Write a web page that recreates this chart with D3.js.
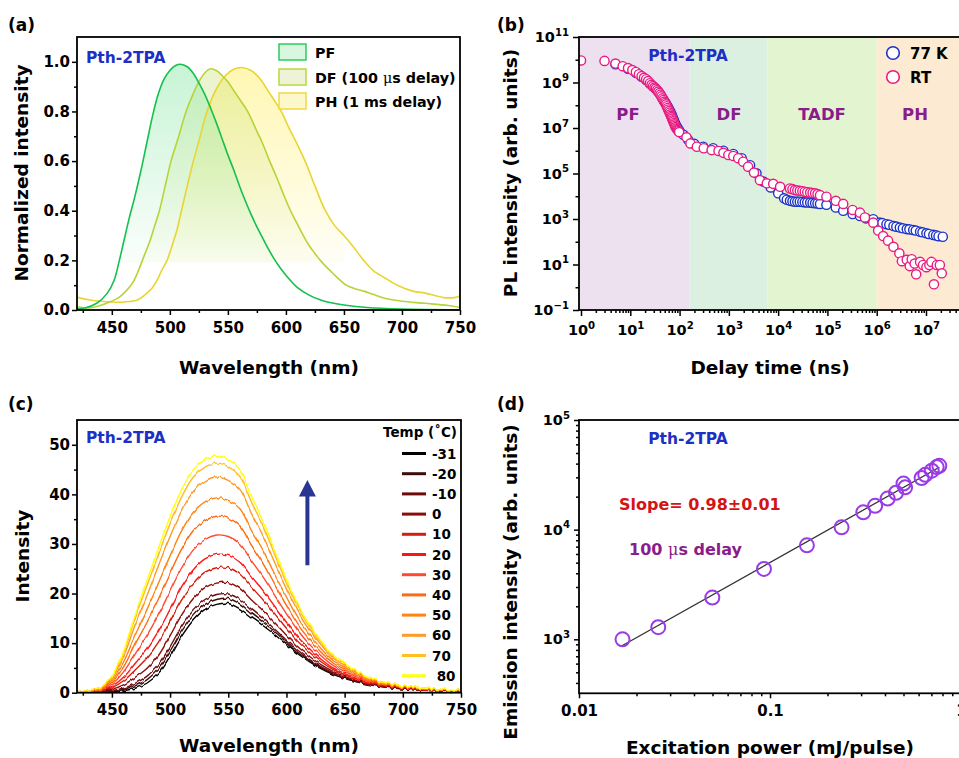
<!DOCTYPE html>
<html>
<head>
<meta charset="utf-8">
<title>Pth-2TPA photophysics</title>
<script src="https://cdn.jsdelivr.net/npm/d3@7/dist/d3.min.js"></script>
<style>
  html, body { margin: 0; background: #fff; }
  svg { display: block; }
</style>
</head>
<body>
<svg id="fig" width="959" height="758"></svg>
<script>
const FONT = '"DejaVu Sans", Verdana, sans-serif';

// ---------- (a) normalized PF / DF / PH spectra: [wavelength nm, intensity] ----------
const pfSpectrum = [[420,0.005],[426,0.007],[437,0.027],[446,0.067],[452,0.12],[456,0.19],[460,0.27],[465,0.37],[470,0.46],[475,0.56],[480,0.67],[485,0.78],[490,0.87],[495,0.93],[500,0.965],[505,0.985],[509,0.99],[515,0.98],[520,0.955],[525,0.915],[530,0.87],[535,0.815],[540,0.755],[545,0.69],[550,0.625],[555,0.565],[560,0.5],[565,0.44],[570,0.385],[575,0.335],[580,0.29],[585,0.245],[590,0.205],[595,0.17],[600,0.14],[610,0.09],[620,0.06],[630,0.04],[640,0.028],[650,0.02],[670,0.01],[700,0.004],[750,0.001]];
const dfSpectrum = [[420,0.013],[430,0.008],[440,0.018],[449,0.034],[456,0.05],[463,0.08],[468,0.11],[472,0.148],[478,0.22],[483,0.28],[487,0.34],[491,0.4],[496,0.5],[501,0.6],[507,0.69],[514,0.8],[520,0.87],[525,0.92],[530,0.955],[535,0.972],[540,0.965],[545,0.945],[550,0.92],[555,0.885],[560,0.85],[567,0.8],[575,0.72],[580,0.67],[586,0.6],[592,0.535],[598,0.465],[604,0.4],[610,0.345],[615,0.3],[620,0.26],[625,0.228],[630,0.198],[640,0.15],[652,0.1],[660,0.085],[668,0.075],[675,0.063],[687,0.045],[700,0.035],[720,0.027],[740,0.018],[750,0.01]];
const phSpectrum = [[420,0.052],[430,0.041],[443,0.034],[457,0.031],[465,0.034],[472,0.04],[480,0.067],[485,0.09],[489,0.12],[493,0.16],[497.6,0.2],[502,0.26],[506,0.32],[510,0.4],[515,0.5],[520,0.595],[525,0.68],[532,0.8],[540,0.89],[548,0.945],[555,0.97],[562,0.977],[570,0.965],[578,0.93],[585,0.88],[590,0.845],[596,0.8],[602,0.74],[610,0.665],[617,0.595],[625,0.5],[634,0.4],[642,0.34],[650,0.3],[658,0.255],[667,0.2],[675,0.16],[685,0.13],[696,0.1],[710,0.075],[720,0.068],[736,0.05],[745,0.05],[750,0.056]];
const legendA = ["PF", "DF (100 ", "PH (1 ms delay)"];
const xTicksA = [450, 500, 550, 600, 650, 700, 750];
const xMinorA = [425, 475, 525, 575, 625, 675, 725];
const yTicksA = [0, 0.2, 0.4, 0.6, 0.8, 1.0];
const yMinorA = [0.1, 0.3, 0.5, 0.7, 0.9];

// ---------- (b) PL decay: [delay ns, intensity] ----------
const regionNames = ["PF", "DF", "TADF", "PH"];
const regionEdges = [160, 6000, 1e6];
const k77Decay = [[5,6.3e9],[9,4.0e9],[13,2.7e9],[17,1.8e9],[21,1.3e9],[25,9.0e8],[29,6.6e8],[33,5.2e8],[37,3.9e8],[41,2.9e8],[45,2.1e8],[49,1.55e8],[53,1.2e8],[57,9.1e7],[61,6.9e7],[65,5.2e7],[69,3.9e7],[73,2.9e7],[77,2.2e7],[81,1.6e7],[85,1.3e7],[90,1.05e7],[95,8.5e6],[100,7.2e6],[120,5.0e6],
  [150,3.0e6],[200,2.0e6],[302,1.5e6],[479,1.29e6],[776,1.0e6],[1230,7.2e5],[1820,4.7e5],[2690,2.3e5],[3630,1.02e5],[5010,4.4e4],[7080,2.45e4],[10000,1.35e4],[13200,8.1e3],[15000,7.0e3],[17400,6.3e3],[19500,6.0e3],[21900,5.75e3],[24500,5.8e3],[27500,5.75e3],[31000,5.6e3],[34700,5.4e3],[39000,5.3e3],[44700,5.25e3],[50000,5.1e3],[56200,4.9e3],[63000,4.8e3],[70800,4.6e3],[95500,4.2e3],[148000,3.2e3],[209000,2.3e3],[324000,1.66e3],[457000,1.35e3],[603000,1.07e3],[851000,9.8e2],
  [1.15e6,690],[1.3e6,660],[1.58e6,590],[1.8e6,560],[2.19e6,490],[2.5e6,460],[2.95e6,420],[3.4e6,390],[4.07e6,360],[4.6e6,350],[5.5e6,330],[6.2e6,310],[7.59e6,275],[8.5e6,260],[1.02e7,235],[1.15e7,220],[1.41e7,200],[1.6e7,190],[1.8e7,175],[2.19e7,166]];
const rtDecay = [[1,9.3e9],[3,8.9e9],[5,6.8e9],[7,5.2e9],[9,4.3e9],[11,3.5e9],[13,2.9e9],[15,2.3e9],[17,1.9e9],[19,1.6e9],[21,1.4e9],[23,1.15e9],[25,9.3e8],[27,7.9e8],[29,6.9e8],[31,6.0e8],[33,5.4e8],[35,4.6e8],[37,4.0e8],[39,3.4e8],[41,2.9e8],[43,2.45e8],[45,2.0e8],[47,1.7e8],[49,1.45e8],[51,1.26e8],[53,1.1e8],[55,9.1e7],[57,7.6e7],[59,6.5e7],[61,5.5e7],[63,4.7e7],[65,4.0e7],[67,3.4e7],[69,3.0e7],[71,2.6e7],[73,2.2e7],[75,1.95e7],[77,1.66e7],[79,1.45e7],[81,1.26e7],[83,1.1e7],[86,9.8e6],[89,8.9e6],[92,8.1e6],[95,7.4e6],[98,6.6e6],
  [138,3.9e6],[166,2.1e6],[224,1.5e6],[309,1.29e6],[447,1.07e6],[617,9.8e5],[776,8.1e5],[977,6.5e5],[1230,5.9e5],[1549,4.7e5],[1950,3.3e5],[2455,2.0e5],[3236,1.1e5],[4266,5.1e4],[5888,3.7e4],[7943,3.5e4],
  [10965,2.6e4],[17378,2.2e4],[19500,2.05e4],[21878,1.86e4],[24500,1.8e4],[27542,1.74e4],[31000,1.66e4],[34674,1.58e4],[39000,1.5e4],[44668,1.45e4],[50000,1.4e4],[56234,1.35e4],[63000,1.25e4],[70795,1.12e4],[95499,9.5e3],[147911,6.3e3],[208930,4.6e3],[323594,2.5e3],[457088,1.9e3],[575440,1.17e3],[851138,690],
  [1.07e6,310],[1.35e6,178],[1.70e6,112],[2.19e6,60],[2.88e6,31],[3.24e6,14],[4.07e6,16],[4.68e6,8.5],[5.13e6,17],[5.89e6,11],[6.31e6,3.7],[7.59e6,13],[8.71e6,9.5],[1.02e7,7.6],[1.17e7,9.5],[1.29e7,13],[1.45e7,1.35],[1.66e7,9.5],[1.91e7,9.5],[2.09e7,4.1]];
const decadeTicksB = [1, 10, 100, 1e3, 1e4, 1e5, 1e6, 1e7];
const yTicksB = [1e-1, 1e1, 1e3, 1e5, 1e7, 1e9, 1e11];
const yMinorB = [1, 1e2, 1e4, 1e6, 1e8, 1e10];

// ---------- (c) temperature-dependent spectra ----------
const wavelengthC = [420,440,450,460,470,480,490,500,510,520,530,540,550,560,570,580,590,600,610,620,630,640,650,660,670,680,700,720,750];
const intensityM31 = [0.1,0.1,0.2,0.4,0.9,1.9,3.9,7.4,11.4,14.6,16.8,17.8,18.0,16.9,15.2,13.5,11.7,9.7,7.8,6.2,4.8,3.7,2.9,2.2,1.7,1.3,0.8,0.5,0.2];
const intensityM20 = [0.1,0.1,0.3,0.7,1.4,2.6,4.8,8.4,12.4,15.6,17.8,18.8,19.0,17.9,16.0,14.2,12.3,10.2,8.1,6.5,5.0,3.8,3.0,2.3,1.8,1.3,0.8,0.5,0.2];
const intensityM10 = [0.1,0.2,0.4,0.9,1.9,3.3,5.6,9.3,13.4,16.6,18.8,19.8,19.9,18.8,16.8,14.9,12.8,10.6,8.5,6.7,5.2,4.0,3.1,2.4,1.8,1.4,0.8,0.5,0.2];
const intensityP0 = [0.1,0.2,0.7,1.6,3.1,4.9,7.5,11.5,15.7,19.0,21.2,22.1,22.2,21.0,18.7,16.5,14.1,11.6,9.2,7.3,5.6,4.3,3.3,2.5,1.9,1.4,0.9,0.6,0.2];
const intensityP10 = [0.1,0.4,1.0,2.4,4.6,7.0,10.2,14.4,18.7,22.1,24.3,25.2,25.2,23.9,21.3,18.7,15.9,13.0,10.3,8.1,6.2,4.7,3.6,2.8,2.1,1.6,1.0,0.6,0.3];
const intensityP20 = [0.1,0.4,1.3,3.1,5.9,8.8,12.4,16.8,21.4,24.8,27.0,27.9,27.7,26.3,23.4,20.6,17.4,14.2,11.2,8.8,6.7,5.0,3.9,2.9,2.2,1.6,1.0,0.6,0.3];
const intensityP30 = [0.1,0.6,1.7,4.2,7.8,11.5,15.7,20.5,25.2,28.8,30.9,31.8,31.5,30.0,26.6,23.3,19.6,15.9,12.5,9.7,7.4,5.5,4.3,3.2,2.5,1.8,1.1,0.7,0.3];
const intensityP40 = [0.1,0.7,2.1,5.2,9.8,14.1,18.9,24.1,29.0,32.7,34.7,35.6,35.2,33.6,29.7,26.0,21.7,17.6,13.7,10.7,8.1,6.0,4.7,3.5,2.7,1.9,1.2,0.7,0.4];
const intensityP50 = [0.2,0.8,2.5,6.2,11.6,16.7,22.1,27.6,32.7,36.4,38.5,39.3,38.8,37.1,32.7,28.7,23.8,19.3,15.0,11.7,8.8,6.5,5.1,3.8,2.9,2.0,1.2,0.8,0.4];
const intensityP60 = [0.2,1.0,2.9,7.3,13.7,19.5,25.6,31.5,36.7,40.6,42.7,43.5,42.8,41.0,36.1,31.6,26.2,21.1,16.4,12.7,9.6,7.0,5.5,4.1,3.1,2.2,1.3,0.8,0.5];
const intensityP70 = [0.2,1.1,3.2,8.1,15.1,21.5,27.9,34.1,39.5,43.5,45.5,46.3,45.6,43.6,38.4,33.6,27.8,22.3,17.3,13.4,10.1,7.4,5.8,4.3,3.2,2.3,1.4,0.9,0.5];
const intensityP80 = [0.2,1.1,3.4,8.5,15.8,22.5,29.2,35.5,41.0,45.0,47.0,47.8,47.0,45.0,39.6,34.6,28.6,23.0,17.8,13.8,10.4,7.6,5.9,4.4,3.3,2.3,1.4,0.9,0.5];
const spectraC = [intensityM31, intensityM20, intensityM10, intensityP0, intensityP10, intensityP20, intensityP30, intensityP40, intensityP50, intensityP60, intensityP70, intensityP80];
const tempLabels = ["-31", "-20", "-10", "0", "10", "20", "30", "40", "50", "60", "70", " 80"];
const tempColors = ["#000000", "#3d0c0c", "#6a0a0a", "#8c0a0a", "#d41c10", "#ff1414", "#ff4a32", "#ff6a12", "#ff8414", "#ff9a22", "#ffbe22", "#ffff12"];
const yTicksC = [0, 10, 20, 30, 40, 50];
const yMinorC = [5, 15, 25, 35, 45];
const arrowC = [[618, 25.7], [618, 42.9]];

// ---------- (d) excitation-power dependence ----------
const excitationPower = [0.0169, 0.026, 0.0499, 0.093, 0.156, 0.237, 0.308, 0.355, 0.413, 0.457, 0.50, 0.51, 0.622, 0.65, 0.703, 0.746, 0.77];
const emissionIntensity = [1000, 1290, 2400, 4380, 7200, 10500, 14400, 16500, 19200, 21700, 26300, 24300, 29600, 31600, 34500, 37200, 38200];
const fitSlope = 0.98, fitSlopeErr = 0.01, fitLogIntercept = 4.68;
const fitRange = [0.0168, 0.77];
const xTicksD = [0.01, 0.1, 1];
const xMinorD = [0.02,0.03,0.04,0.05,0.06,0.07,0.08,0.09,0.2,0.3,0.4,0.5,0.6,0.7,0.8,0.9];
const yTicksD = [1e3, 1e4, 1e5];
const yMinorD = [400,500,600,700,800,900,2e3,3e3,4e3,5e3,6e3,7e3,8e3,9e3,2e4,3e4,4e4,5e4,6e4,7e4,8e4,9e4];

// ---------- helpers ----------
const svg = d3.select("#fig");
svg.append("rect").attr("width", 959).attr("height", 758).attr("fill", "#fff");
const defs = svg.append("defs");

function txt(parent, x, y, s, o = {}) {
  const t = parent.append("text").attr("x", x).attr("y", y)
    .attr("font-family", FONT).attr("font-weight", o.weight || "bold")
    .attr("font-size", o.size || 15).attr("fill", o.fill || "#000")
    .attr("text-anchor", o.anchor || "start");
  if (o.rotate) t.attr("transform", `rotate(${o.rotate},${x},${y})`);
  if (s !== null) t.text(s);
  return t;
}
function addAxis(parent, gen, tx, ty, size = 15) {
  const g = parent.append("g").attr("transform", `translate(${tx},${ty})`).call(gen);
  g.select(".domain").remove();
  g.selectAll(".tick line").attr("stroke", "#000").attr("stroke-width", 1.5);
  g.selectAll(".tick text").attr("font-family", FONT).attr("font-weight", "bold")
    .attr("font-size", size).attr("fill", "#000");
  return g;
}
function powerLabels(axisG, size) {
  axisG.selectAll(".tick text").each(function (d) {
    const e = Math.round(Math.log10(d));
    const t = d3.select(this).text(null);
    t.append("tspan").text("10");
    t.append("tspan").attr("dy", -size * 0.45).attr("font-size", size * 0.7)
      .text(e < 0 ? "\u2212" + (-e) : String(e));
  });
}
function frame(parent, x0, y0, x1, y1) {
  parent.append("rect").attr("x", x0).attr("y", y0).attr("width", x1 - x0).attr("height", y1 - y0)
    .attr("fill", "none").attr("stroke", "#000").attr("stroke-width", 1.8);
}
function clip(id, x0, y0, x1, y1) {
  defs.append("clipPath").attr("id", id).append("rect")
    .attr("x", x0).attr("y", y0).attr("width", x1 - x0).attr("height", y1 - y0);
  return `url(#${id})`;
}
function vGradient(id, color, yTop, yBot, a0, a1) {
  const g = defs.append("linearGradient").attr("id", id).attr("gradientUnits", "userSpaceOnUse")
    .attr("x1", 0).attr("x2", 0).attr("y1", yTop).attr("y2", yBot);
  g.append("stop").attr("offset", 0).attr("stop-color", color).attr("stop-opacity", a0);
  g.append("stop").attr("offset", 1).attr("stop-color", color).attr("stop-opacity", a1);
  return `url(#${id})`;
}

// ================= (a) =================
{
  const L = 77, T = 37, R = 460, B = 310;
  const g = svg.append("g");
  const x = d3.scaleLinear().domain([420, 750]).range([L, R]);
  const y = d3.scaleLinear().domain([0, 1.1]).range([B, T]);
  const fillBase = 0.19;
  const fillClip = clip("fillA", x(420), T, x(650), y(fillBase));
  const plotClip = clip("plotA", L, T, R, B);
  const series = [
    { data: phSpectrum, line: "#e8d534", fill: vGradient("gPH", "#fff070", y(1), y(fillBase), 0.55, 0.06) },
    { data: dfSpectrum, line: "#b6d438", fill: vGradient("gDF", "#c8e070", y(1), y(fillBase), 0.38, 0.04) },
    { data: pfSpectrum, line: "#14c04e", fill: vGradient("gPF", "#8fe8a8", y(1), y(fillBase), 0.5, 0.04) }
  ];
  const area = d3.area().curve(d3.curveCatmullRom.alpha(0.5))
    .x(d => x(d[0])).y0(y(fillBase)).y1(d => y(Math.max(d[1], fillBase)));
  const line = d3.line().curve(d3.curveCatmullRom.alpha(0.5)).x(d => x(d[0])).y(d => y(d[1]));
  const fills = g.append("g").attr("clip-path", fillClip);
  series.forEach(s => fills.append("path").attr("d", area(s.data)).attr("fill", s.fill));
  const lines = g.append("g").attr("clip-path", plotClip);
  series.forEach(s => lines.append("path").attr("d", line(s.data)).attr("fill", "none")
    .attr("stroke", s.line).attr("stroke-width", 1.6));

  addAxis(g, d3.axisBottom(x).tickValues(xTicksA).tickSize(5).tickPadding(7), 0, B);
  addAxis(g, d3.axisBottom(x).tickValues(xMinorA).tickSize(3).tickFormat(""), 0, B);
  addAxis(g, d3.axisLeft(y).tickValues(yTicksA).tickSize(5).tickPadding(2).tickFormat(d3.format(".1f")), L, 0);
  addAxis(g, d3.axisLeft(y).tickValues(yMinorA).tickSize(3).tickFormat(""), L, 0);
  frame(g, L, T, R, B);

  // legend
  const sw = [["#2ecb5c", "#d9f6df"], ["#b9d83e", "#eef3d8"], ["#efd943", "#fdf8cc"]];
  const rowsY = [52, 77, 101];
  legendA.forEach((lab, i) => {
    g.append("rect").attr("x", 279).attr("y", rowsY[i] - 8).attr("width", 27).attr("height", 16)
      .attr("fill", sw[i][1]).attr("stroke", sw[i][0]).attr("stroke-width", 1.5);
    const t = txt(g, 315, rowsY[i] + 5.5, null, { size: 14.3 });
    t.append("tspan").text(lab);
    if (i === 1) {
      t.append("tspan").attr("font-weight", "normal").attr("font-family", "'DejaVu Serif', serif").text("\u03bc");
      t.append("tspan").text("s delay)");
    }
  });
  txt(g, 86, 63, "Pth-2TPA", { size: 15.5, fill: "#1d2fc4" });
  txt(g, 28, 173, "Normalized intensity", { size: 18.5, anchor: "middle", rotate: -90 });
  txt(g, 269, 374, "Wavelength (nm)", { size: 18.5, anchor: "middle" });
  txt(g, 8, 31, "(a)", { size: 17 });
}

// ================= (b) =================
{
  const L = 579, T = 37, R = 990, B = 310;
  const g = svg.append("g");
  const x = d3.scaleLog().domain([1, 1e7]).range([581, 926]);
  const y = d3.scaleLog().domain([0.1, 1e11]).range([B, T]);
  const edges = [L, ...regionEdges.map(x), R];
  const bg = ["#ede0ef", "#dcf0e2", "#e2f4d0", "#fdead2"];
  regionNames.forEach((n, i) => {
    g.append("rect").attr("x", edges[i]).attr("y", T).attr("width", edges[i + 1] - edges[i])
      .attr("height", B - T).attr("fill", bg[i]);
  });
  const labX = [628, 729, 822, 915];
  regionNames.forEach((n, i) => txt(g, labX[i], 120, n, { size: 16.5, anchor: "middle", fill: "#8b1c8b" }));
  txt(g, 688, 61, "Pth-2TPA", { size: 15.5, anchor: "middle", fill: "#1d2fc4" });

  const pts = g.append("g").attr("clip-path", clip("plotB", L, T, R, B));
  pts.selectAll(".k77").data(k77Decay).join("circle").attr("class", "k77")
    .attr("cx", d => x(d[0])).attr("cy", d => y(d[1])).attr("r", 4.6)
    .attr("fill", "#fff").attr("stroke", "#1c33c8").attr("stroke-width", 1.4);
  pts.selectAll(".rt").data(rtDecay).join("circle").attr("class", "rt")
    .attr("cx", d => x(d[0])).attr("cy", d => y(d[1])).attr("r", 4.6)
    .attr("fill", "#fff").attr("stroke", "#ea1a80").attr("stroke-width", 1.4);

  const minorX = [];
  decadeTicksB.forEach(d => { for (let k = 2; k <= 9; k++) minorX.push(d * k); });
  const ax = addAxis(g, d3.axisBottom(x).tickValues(decadeTicksB).tickSize(6).tickPadding(9), 0, B, 14.5);
  powerLabels(ax, 14.5);
  addAxis(g, d3.axisBottom(x).tickValues(minorX).tickSize(3).tickFormat(""), 0, B);
  const ay = addAxis(g, d3.axisLeft(y).tickValues(yTicksB).tickSize(6).tickPadding(4), L, 0, 14.5);
  powerLabels(ay, 14.5);
  addAxis(g, d3.axisLeft(y).tickValues(yMinorB).tickSize(3.5).tickFormat(""), L, 0);
  frame(g, L, T, R, B);

  // legend
  g.append("circle").attr("cx", 893).attr("cy", 53).attr("r", 6.3).attr("fill", "#fff")
    .attr("stroke", "#1c33c8").attr("stroke-width", 1.6);
  g.append("circle").attr("cx", 893).attr("cy", 77).attr("r", 6.3).attr("fill", "#fff")
    .attr("stroke", "#ea1a80").attr("stroke-width", 1.6);
  txt(g, 910, 58.5, "77 K", { size: 15 });
  txt(g, 910, 82.5, "RT", { size: 15 });

  txt(g, 517, 173, "PL intensity (arb. units)", { size: 18.5, anchor: "middle", rotate: -90 });
  txt(g, 770, 374, "Delay time (ns)", { size: 18.5, anchor: "middle" });
  txt(g, 497, 31, "(b)", { size: 17 });
}

// ================= (c) =================
{
  const L = 77, T = 420, R = 461, B = 692.7;
  const g = svg.append("g");
  const x = d3.scaleLinear().domain([420, 750]).range([L, R]);
  const y = d3.scaleLinear().domain([0, 55]).range([B, T]);

  // measurement noise look: vertical-only jitter of the traces
  const filt = defs.append("filter").attr("id", "noisy").attr("filterUnits", "userSpaceOnUse")
    .attr("x", L - 5).attr("y", T - 10).attr("width", R - L + 10).attr("height", B - T + 20);
  filt.append("feTurbulence").attr("type", "fractalNoise").attr("baseFrequency", "0.3 0.03")
    .attr("numOctaves", 1).attr("seed", 11).attr("result", "n");
  filt.append("feColorMatrix").attr("in", "n").attr("type", "matrix")
    .attr("values", "0 0 0 0 0.5  0 1 0 0 0  0 0 0 0 0.5  0 0 0 0 1").attr("result", "ny");
  filt.append("feDisplacementMap").attr("in", "SourceGraphic").attr("in2", "ny").attr("scale", 5)
    .attr("xChannelSelector", "R").attr("yChannelSelector", "G");

  const line = d3.line().curve(d3.curveCatmullRom.alpha(0.5))
    .x((d, i) => x(wavelengthC[i])).y(d => y(d));
  const curves = g.append("g").attr("clip-path", clip("plotC", L, T, R, B))
    .append("g").attr("filter", "url(#noisy)");
  spectraC.forEach((s, i) => curves.append("path").attr("d", line(s)).attr("fill", "none")
    .attr("stroke", tempColors[i]).attr("stroke-width", 1.4));

  addAxis(g, d3.axisBottom(x).tickValues(xTicksA).tickSize(5).tickPadding(7), 0, B);
  addAxis(g, d3.axisBottom(x).tickValues(xMinorA).tickSize(3).tickFormat(""), 0, B);
  addAxis(g, d3.axisLeft(y).tickValues(yTicksC).tickSize(5).tickPadding(2), L, 0);
  addAxis(g, d3.axisLeft(y).tickValues(yMinorC).tickSize(3).tickFormat(""), L, 0);
  frame(g, L, T, R, B);

  // temperature legend
  txt(g, 457, 437, "Temp (\u02daC)", { size: 13.5, anchor: "end" });
  tempLabels.forEach((lab, i) => {
    const cy = 453.5 + i * 20.2;
    g.append("line").attr("x1", 402).attr("x2", 426).attr("y1", cy).attr("y2", cy)
      .attr("stroke", tempColors[i]).attr("stroke-width", 3);
    txt(g, 432, cy + 5, lab, { size: 13.5 }).attr("xml:space", "preserve");
  });

  // rising-temperature arrow
  const ax0 = x(arrowC[0][0]), ay0 = y(arrowC[0][1]), ay1 = y(arrowC[1][1]);
  g.append("line").attr("x1", ax0).attr("x2", ax0).attr("y1", ay0).attr("y2", ay1 + 14)
    .attr("stroke", "#283593").attr("stroke-width", 4);
  g.append("path").attr("d", `M${ax0 - 8.5},${ay1 + 16.5}L${ax0 + 8.5},${ay1 + 16.5}L${ax0},${ay1}Z`)
    .attr("fill", "#283593");

  txt(g, 86, 443, "Pth-2TPA", { size: 15.5, fill: "#1d2fc4" });
  txt(g, 29, 556, "Intensity", { size: 18.5, anchor: "middle", rotate: -90 });
  txt(g, 269, 752, "Wavelength (nm)", { size: 18.5, anchor: "middle" });
  txt(g, 8, 410, "(c)", { size: 17 });
}

// ================= (d) =================
{
  const L = 579, T = 420, R = 961, B = 693.3;
  const g = svg.append("g");
  const x = d3.scaleLog().domain([0.01, 1]).range([L, R]);
  const y = d3.scaleLog().domain([1e3, 1e5]).range([639.3, T]);

  const fitY = p => Math.pow(10, fitLogIntercept + fitSlope * Math.log10(p));
  g.append("line").attr("x1", x(fitRange[0])).attr("y1", y(fitY(fitRange[0])))
    .attr("x2", x(fitRange[1])).attr("y2", y(fitY(fitRange[1])))
    .attr("stroke", "#333").attr("stroke-width", 1.3);
  g.selectAll(".pw").data(excitationPower).join("circle").attr("class", "pw")
    .attr("cx", d => x(d)).attr("cy", (d, i) => y(emissionIntensity[i])).attr("r", 7)
    .attr("fill", "none").attr("stroke", "#9a3be8").attr("stroke-width", 2);

  addAxis(g, d3.axisBottom(x).tickValues(xTicksD).tickSize(5).tickPadding(7).tickFormat(d3.format("")), 0, B);
  addAxis(g, d3.axisBottom(x).tickValues(xMinorD).tickSize(3).tickFormat(""), 0, B);
  const ay = addAxis(g, d3.axisLeft(y).tickValues(yTicksD).tickSize(5).tickPadding(4), L, 0, 14.5);
  powerLabels(ay, 14.5);
  addAxis(g, d3.axisLeft(y).tickValues(yMinorD).tickSize(3).tickFormat(""), L, 0);
  frame(g, L, T, R, B);

  txt(g, 688, 444, "Pth-2TPA", { size: 15.5, anchor: "middle", fill: "#1d2fc4" });
  txt(g, 619, 510, `Slope= ${fitSlope.toFixed(2)}\u00b1${fitSlopeErr.toFixed(2)}`, { size: 16, fill: "#d41414" });
  const dl = txt(g, 629, 555, null, { size: 16, fill: "#8b1c8b" });
  dl.append("tspan").text("100 ");
  dl.append("tspan").attr("font-weight", "normal").attr("font-family", "'DejaVu Serif', serif").text("\u03bc");
  dl.append("tspan").text("s delay");

  txt(g, 517, 582, "Emission intensity (arb. units)", { size: 18.5, anchor: "middle", rotate: -90 });
  txt(g, 770, 754, "Excitation power (mJ/pulse)", { size: 18.5, anchor: "middle" });
  txt(g, 497, 410, "(d)", { size: 17 });
}
</script>
</body>
</html>
